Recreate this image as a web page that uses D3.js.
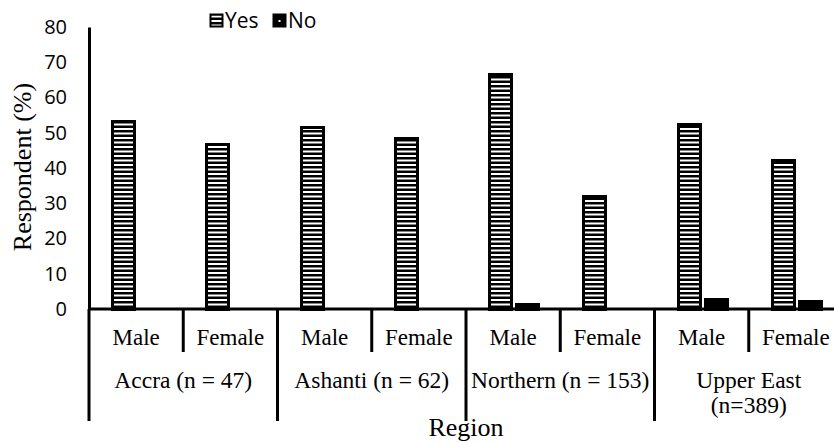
<!DOCTYPE html>
<html>
<head>
<meta charset="utf-8">
<script src="https://cdn.jsdelivr.net/npm/d3@7"></script>
<style>
  html, body { margin: 0; padding: 0; background: #fff; }
  svg { display: block; }
</style>
</head>
<body>
<svg id="chart" width="834" height="443"></svg>
<script>
// ---- data ----
const regions = ["Accra (n = 47)", "Ashanti (n = 62)", "Northern (n = 153)", "Upper East|(n=389)"];
const genders = ["Male", "Female"];
const series = ["Yes", "No"];
const yesValues = [53.2, 46.8, 51.6, 48.4, 66.7, 32.0, 52.4, 42.4];
const noValues  = [0, 0, 0, 0, 1.3, 0, 2.8, 2.3];
const yTicks = [0, 10, 20, 30, 40, 50, 60, 70, 80];

// ---- layout ----
const svg = d3.select("#chart");
const plotLeft = 89, plotRight = 843, plotTop = 27, plotBase = 309;
const sans = "'Open Sans', sans-serif";
const serif = "'Liberation Serif', 'Times New Roman', serif";

const cats = [];
regions.forEach((r, ri) => genders.forEach((g, gi) => cats.push({ region: r, ri, gender: g, key: r + "|" + g, i: ri * 2 + gi })));

const x0 = d3.scaleBand().domain(cats.map(d => d.key)).range([plotLeft, plotRight]).padding(0);
const bw = x0.bandwidth();
const x1 = d3.scaleBand().domain(series).range([bw * 0.245, bw * 0.765]).paddingInner(0.185).paddingOuter(0);
const y = d3.scaleLinear().domain([0, 80]).range([plotBase, plotTop]);

// ---- patterns ----
const defs = svg.append("defs");
const pYes = defs.append("pattern").attr("id", "stripes").attr("patternUnits", "userSpaceOnUse")
  .attr("width", 8).attr("height", 9);
pYes.append("rect").attr("width", 8).attr("height", 9).attr("fill", "#000");
pYes.append("rect").attr("y", 2).attr("width", 8).attr("height", 2).attr("fill", "#fff");
pYes.append("rect").attr("y", 6.5).attr("width", 8).attr("height", 2).attr("fill", "#fff");

const pNo = defs.append("pattern").attr("id", "dots").attr("patternUnits", "userSpaceOnUse")
  .attr("width", 24).attr("height", 12).attr("x", 4).attr("y", 3);
pNo.append("rect").attr("width", 24).attr("height", 12).attr("fill", "#000");
pNo.append("rect").attr("x", 8).attr("y", 6).attr("width", 2).attr("height", 2).attr("fill", "#fff");

// ---- bars ----
const barData = [];
cats.forEach(c => {
  barData.push({ cat: c, s: "Yes", v: yesValues[c.i] });
  barData.push({ cat: c, s: "No", v: noValues[c.i] });
});
svg.append("g").selectAll("rect").data(barData.filter(d => d.v > 0)).join("rect")
  .attr("x", d => Math.round(x0(d.cat.key) + x1(d.s)) + 0.5)
  .attr("y", d => Math.round(y(d.v)) + 0.5)
  .attr("width", Math.round(x1.bandwidth()))
  .attr("height", d => Math.round(y(0)) - Math.round(y(d.v)))
  .attr("fill", d => d.s === "Yes" ? "url(#stripes)" : "url(#dots)")
  .attr("stroke", "#000").attr("stroke-width", 3);

// ---- y axis ----
const yAxis = svg.append("g").attr("transform", `translate(${plotLeft},0)`)
  .call(d3.axisLeft(y).tickValues(yTicks).tickSize(0).tickPadding(22));
yAxis.select(".domain").attr("stroke", "#000").attr("stroke-width", 3);
yAxis.selectAll("text").attr("font-family", sans).attr("font-size", 20).attr("fill", "#000");

// ---- x axis baseline & separators ----
const ax = svg.append("g");
ax.append("line").attr("x1", plotLeft).attr("x2", plotRight).attr("y1", plotBase).attr("y2", plotBase)
  .attr("stroke", "#000").attr("stroke-width", 3);
cats.forEach(c => {
  const xx = x0(c.key);
  const long = c.gender === "Male";
  ax.append("line").attr("x1", xx).attr("x2", xx).attr("y1", plotBase).attr("y2", long ? 421 : 352)
    .attr("stroke", "#000").attr("stroke-width", 3);
});

// gender labels
svg.append("g").selectAll("text").data(cats).join("text")
  .attr("x", d => x0(d.key) + bw / 2).attr("y", 345)
  .attr("text-anchor", "middle").attr("font-family", serif).attr("font-size", 23).attr("fill", "#000")
  .text(d => d.gender);

// region labels
const rg = svg.append("g");
regions.forEach((r, ri) => {
  const cx = x0(r + "|Male") + bw;
  const lines = r.split("|");
  const t = rg.append("text").attr("text-anchor", "middle").attr("font-family", serif)
    .attr("font-size", 23.5).attr("fill", "#000");
  lines.forEach((ln, li) => {
    t.append("tspan").attr("x", cx).attr("y", 388 + li * 25).text(ln);
  });
});

// axis titles
svg.append("text").attr("x", (plotLeft + plotRight) / 2).attr("y", 436).attr("text-anchor", "middle")
  .attr("font-family", serif).attr("font-size", 26).attr("fill", "#000").text("Region");
svg.append("text").attr("transform", `translate(31,167) rotate(-90)`).attr("text-anchor", "middle")
  .attr("font-family", serif).attr("font-size", 26).attr("fill", "#000").text("Respondent (%)");

// ---- legend ----
const lg = svg.append("g");
const legendItems = [
  { s: "Yes", x: 209, fill: "url(#stripes)" },
  { s: "No", x: 272, fill: "#000" }
];
legendItems.forEach(it => {
  lg.append("rect").attr("x", it.x + 1.5).attr("y", 14.5).attr("width", 12).attr("height", 12)
    .attr("fill", it.fill).attr("stroke", "#000").attr("stroke-width", 2);
  if (it.s === "No") {
    lg.append("rect").attr("x", it.x + 6.5).attr("y", 20).attr("width", 2).attr("height", 2).attr("fill", "#fff");
  }
  lg.append("text").attr("x", it.x + 16).attr("y", 28).attr("font-family", sans).attr("font-size", 21)
    .attr("fill", "#000").text(it.s);
});
</script>
</body>
</html>
